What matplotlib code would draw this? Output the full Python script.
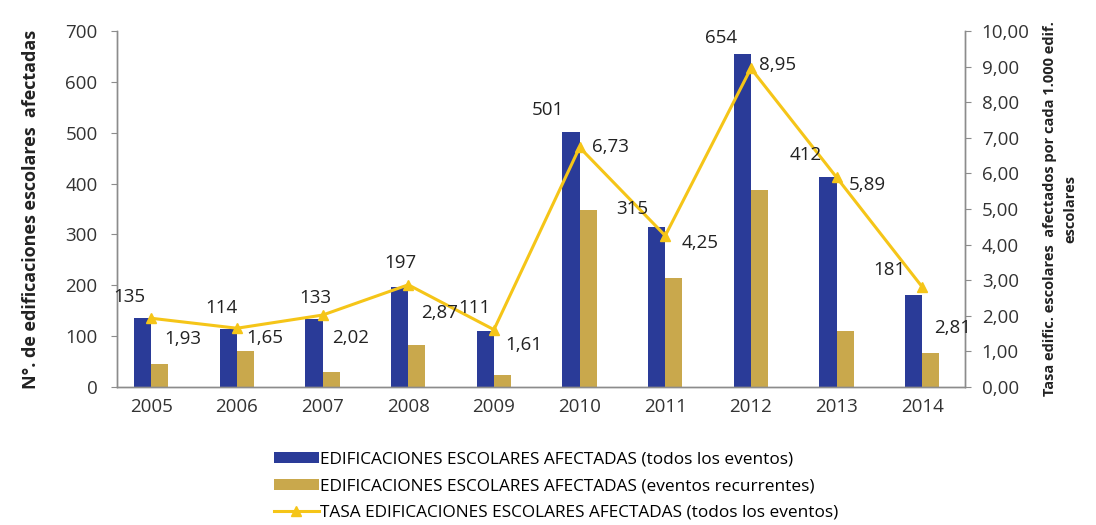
import matplotlib.pyplot as plt
import numpy as np

years = ["2005", "2006", "2007", "2008", "2009", "2010", "2011", "2012", "2013", "2014"]
todos = [135, 114, 133, 197, 111, 501, 315, 654, 412, 181]
recurrentes = [45, 71, 29, 83, 24, 348, 214, 387, 110, 67]
tasa = [1.93, 1.65, 2.02, 2.87, 1.61, 6.73, 4.25, 8.95, 5.89, 2.81]

# label offsets in pixels (dx, dy), kept apart from the data
bar_lbl_off = [(-22, 21), (-16, 21), (-7, 21), (-8, 24), (-20, 23),
               (-32, 22), (-33, 18), (-30, 16), (-31, 22), (-33, 25)]
rate_lbl_off = [(31, -21), (28, -10), (28, -23), (31, -28), (30, -15),
                (31, 0), (35, -7), (27, 3), (31, -8), (30, -41)]

BLUE = "#2a3b98"
GOLD = "#c9a84c"
YELLOW = "#f5c518"
GRAY = "#8c8c8c"

plt.rcParams.update({"font.family": ["Open Sans", "DejaVu Sans"], "font.size": 12})

fig = plt.figure(figsize=(10.96, 5.25), dpi=100)
ax = fig.add_axes([0.1068, 0.2629, 0.7737, 0.6781])
ax2 = ax.twinx()

x = np.arange(len(years))
w = 0.2
b1 = ax.bar(x - w / 2, todos, w, color=BLUE, label="EDIFICACIONES ESCOLARES AFECTADAS (todos los eventos)")
b2 = ax.bar(x + w / 2, recurrentes, w, color=GOLD, label="EDIFICACIONES ESCOLARES AFECTADAS (eventos recurrentes)")
ln, = ax2.plot(x, tasa, color=YELLOW, linewidth=2.2, marker="^", markersize=7,
               label="TASA EDIFICACIONES ESCOLARES AFECTADAS (todos los eventos)")

# convert bar values to the right-axis scale so every label sits above the line
for xi, v, (dx, dy) in zip(x, todos, bar_lbl_off):
    ax2.annotate(f"{v}", (xi, v / 70), textcoords="offset pixels", xytext=(dx, dy),
                 ha="center", va="center", fontsize=13.5, color="#222222", zorder=6)
for xi, v, (dx, dy) in zip(x, tasa, rate_lbl_off):
    ax2.annotate(f"{v:.2f}".replace(".", ","), (xi, v), textcoords="offset pixels", xytext=(dx, dy),
                 ha="center", va="center", fontsize=13.5, color="#222222", zorder=6)

ax.set_xlim(-0.4, 9.5)
ax.set_ylim(0, 700)
ax2.set_ylim(0, 10)
ax.set_yticks(range(0, 701, 100))
ax2.set_yticks(range(0, 11))
ax2.set_yticklabels([f"{v},00" for v in range(0, 11)])
ax.set_xticks(x)
ax.set_xticklabels(years)

for a in (ax, ax2):
    a.spines["top"].set_visible(False)
    for s in ("left", "right", "bottom"):
        a.spines[s].set_color(GRAY)
        a.spines[s].set_linewidth(1)
    a.tick_params(axis="y", colors=GRAY, labelcolor="#333333", length=4, labelsize=13.5)
ax.tick_params(axis="x", length=0, pad=8, labelsize=13.5, labelcolor="#333333")
ax.tick_params(axis="y", pad=10)
ax2.tick_params(axis="y", pad=8)

ax.set_ylabel("N°. de edificaciones escolares  afectadas", fontsize=13, fontweight="bold",
              color="#222222", labelpad=18)
ax2.set_ylabel("Tasa edific. escolares  afectados por cada 1.000 edif.\nescolares", fontsize=10.5,
               fontweight="bold", color="#222222", labelpad=10, linespacing=1.55)

fig.legend([b1, b2, ln], [b1.get_label(), b2.get_label(), ln.get_label()],
           loc="upper left", bbox_to_anchor=(0.25, 0.14), frameon=False, fontsize=12.4,
           handlelength=2.6, handleheight=0.6, handletextpad=0.1, labelspacing=0.62,
           borderpad=0, borderaxespad=0)

fig.savefig("out.png", dpi=100)
